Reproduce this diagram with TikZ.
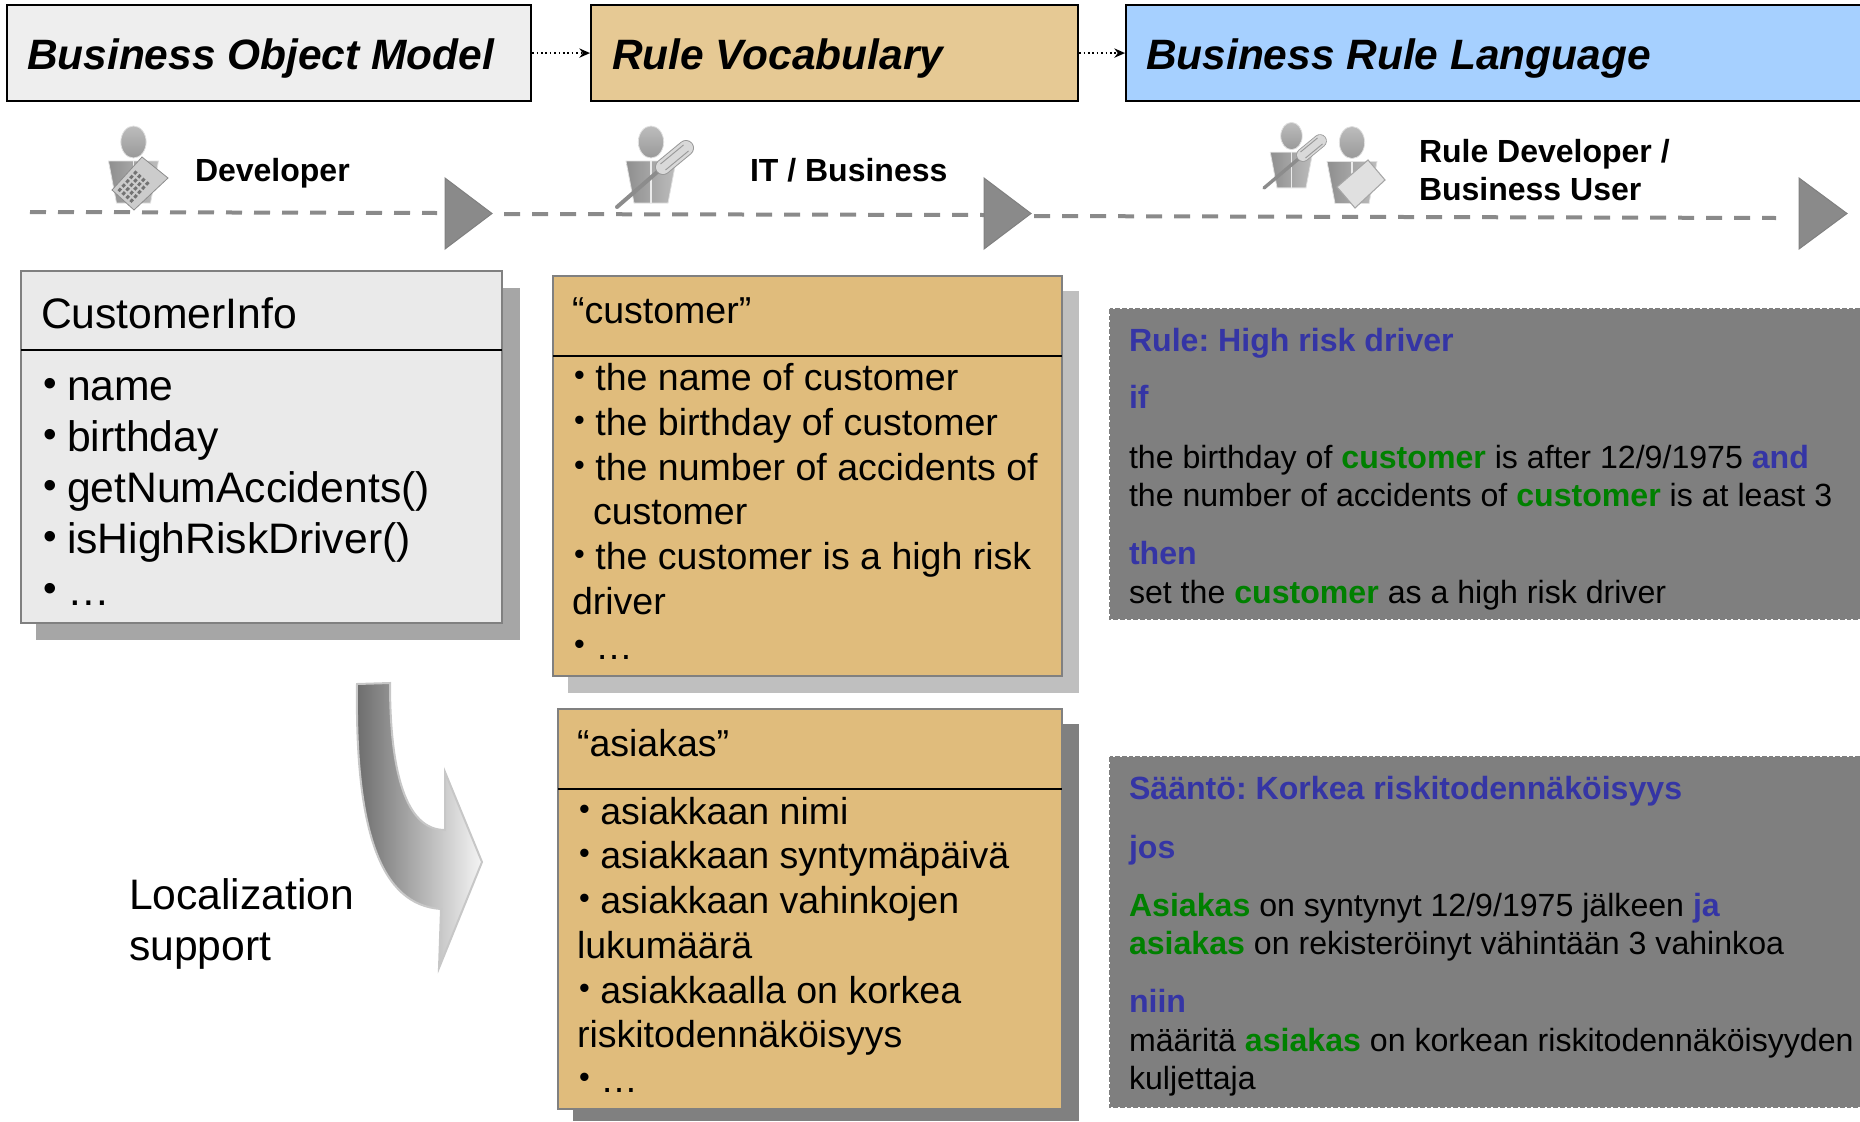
\documentclass[tikz,border=0pt]{standalone}
\usepackage{fontspec}
\setmainfont{Liberation Sans}
\usetikzlibrary{arrows.meta,calc}
\AtBeginDocument{\frenchspacing}
\definecolor{hdgray}{HTML}{EEEEEE}
\definecolor{hdtan}{HTML}{E6C994}
\definecolor{hdblue}{HTML}{A6D0FF}
\definecolor{boxgray}{HTML}{EAEAEA}
\definecolor{boxtan}{HTML}{E0BC7C}
\definecolor{edgegray}{HTML}{808080}
\definecolor{timeline}{HTML}{8A8A8A}
\definecolor{kwblue}{HTML}{3535A5}
\definecolor{kwgreen}{HTML}{008000}
\definecolor{panelgray}{HTML}{7F7F7F}
\newcommand{\fh}{\fontsize{31.85}{36}\selectfont\bfseries\itshape}
\newcommand{\fr}{\fontsize{24}{29}\selectfont\bfseries}
\newcommand{\fa}{\fontsize{32}{38}\selectfont}
\newcommand{\fb}{\fontsize{28.15}{34}\selectfont}
\newcommand{\fc}{\fontsize{24.08}{29}\selectfont}
\newcommand{\Kb}[1]{\textcolor{kwblue}{\bfseries #1}}
\newcommand{\Kg}[1]{\textcolor{kwgreen}{\bfseries #1}}
\newcommand{\bla}{\makebox[18pt][l]{\fontsize{29}{29}\selectfont\raisebox{.1em}{•}}}
\newcommand{\blb}{\makebox[16pt][l]{\fontsize{23}{23}\selectfont\raisebox{.16em}{•}}}
\newcommand{\lbl}[5]{\node[txt,#4] (#1) at (#2,#3) {#5};}
\newcommand{\tri}[4]{\fill[timeline,draw=edgegray,line width=.75pt] (#1,#2) -- (#1,#3) -- (#4,{(#2+#3)/2}) -- cycle;}
\newcommand{\driver}[7]{%
  \draw[black!45,line width=#7*3pt,line cap=round] (#1,#2) -- (#3,#4);
  \draw[black!40,line width=#7*12pt,line cap=round] (#3,#4) -- (#5,#6);
  \draw[black!15,line width=#7*10.5pt,line cap=round] (#3,#4) -- (#5,#6);
  \draw[black!40,line width=.7pt] ($(#3,#4)+(2.5,3)$) -- ($(#5,#6)+(2.5,3)$);
  \draw[black!40,line width=.7pt] ($(#3,#4)+(-2.5,-3)$) -- ($(#5,#6)+(-2.5,-3)$);
}
\tikzset{
  txt/.style={anchor=base west,inner sep=0pt,outer sep=0pt,align=left},
  header/.style={draw=black,line width=1.6pt,anchor=north west,inner sep=0pt},
  hdtext/.style={font=\fh},
  role/.style={font=\fr},
  tl/.style={timeline,line width=3pt,dash pattern=on 12pt off 9pt},
  flow/.style={black,line width=1.3pt,dotted,-{Stealth[length=8pt,width=7pt]}},
  sheet/.style={draw=edgegray,line width=1.6pt},
  person/.pic={
    \shade[top color=black!26,bottom color=black!40,draw=black!12,line width=.6pt] (0,0) ellipse [x radius=9.5pt,y radius=12pt];
    \shade[left color=black!44,right color=black!26,draw=black!12,line width=.6pt] (-25,19) -- (25,19) -- (17,61) -- (-17,61) -- cycle;
    \draw[black!8,line width=.8pt] (0,19) -- (0,61);
  }
}
\begin{document}
\begin{tikzpicture}[x=.75pt,y=-.75pt]
\clip (0,0) rectangle (1860,1121);
% headers
\node[header,fill=hdgray,minimum width=524*.75pt,minimum height=96*.75pt] (hbom) at (6,4) {};
\node[header,fill=hdtan,minimum width=487*.75pt,minimum height=96*.75pt] (hvoc) at (590,4) {};
\node[header,fill=hdblue,minimum width=760*.75pt,minimum height=96*.75pt] (hbrl) at (1125,4) {};
\draw[flow] (hbom) -- (hvoc);
\draw[flow] (hvoc) -- (hbrl);
\lbl{hbomt}{27}{69}{hdtext}{Business Object Model}
\lbl{hvoct}{612}{69}{hdtext}{Rule Vocabulary}
\lbl{hbrlt}{1146}{69}{hdtext}{Business Rule Language}
% timeline
\coordinate (l1a) at (30,212); \coordinate (l1b) at (437,213);
\coordinate (l2a) at (504,214); \coordinate (l2b) at (984,215);
\coordinate (l3a) at (1034,216); \coordinate (l3b) at (1776,218);
\draw[tl] (l1a) -- (l1b);
\draw[tl] (l2a) -- (l2b);
\draw[tl] (l3a) -- (l3b);
\tri{445}{178}{249}{492}
\tri{984}{178}{249}{1031}
\tri{1799}{178}{249}{1847}
% developer
\pic at (133.5,142) {person};
\fill[black!20,draw=black!45,line width=.6pt] (112,190) -- (142,157) -- (168,178) -- (134,210) -- cycle;
\begin{scope}[shift={(112,190)},x={(22.5pt,24.75pt)},y={(16.5pt,-15pt)}]
  \fill[white!80!black] (.76,.18) -- (.95,.18) -- (.95,.85) -- (.76,.85) -- cycle;
  \foreach \u in {.08,.21,.34,.47,.60} \foreach \v in {.14,.32,.50,.68}
    \fill[black!55] (\u,\v) -- (\u+.08,\v) -- (\u+.08,\v+.1) -- (\u,\v+.1) -- cycle;
\end{scope}
\lbl{rdev}{195}{181}{role}{Developer}
% IT / Business
\pic at (651,142) {person};
\driver{617}{207}{663}{167}{686}{148}{1}
\lbl{rit}{750}{181}{role}{IT / Business}
% rule developer / business user
\pic[scale=.85] at (1291.5,136) {person};
\driver{1264}{188}{1303}{155}{1320}{141}{.85}
\pic at (1352,142.5) {person};
\fill[black!12,draw=black!35,line width=.8pt] (1337,187) -- (1368,160) -- (1385,180) -- (1355,208) -- cycle;
\lbl{rrd}{1419}{162}{role}{Rule Developer /}
\lbl{rbu}{1419}{200}{role}{Business User}
% CustomerInfo
\fill[black!35] (36,288) rectangle (520,640);
\draw[sheet,fill=boxgray] (21,271) rectangle (502,623);
\coordinate (d1a) at (21,350); \coordinate (d1b) at (502,350);
\draw[black,line width=1.4pt] (d1a) -- (d1b);
\lbl{c0}{41}{328}{font=\fa}{CustomerInfo}
\lbl{c1}{43}{400}{font=\fa}{\bla name}
\lbl{c2}{43}{451}{font=\fa}{\bla birthday}
\lbl{c3}{43}{502}{font=\fa}{\bla getNumAccidents()}
\lbl{c4}{43}{553}{font=\fa}{\bla isHighRiskDriver()}
\lbl{c5}{43}{605}{font=\fa}{\bla …}
% vocabulary customer
\fill[black!25] (568,291) rectangle (1079,693);
\draw[sheet,fill=boxtan] (553,276) rectangle (1062,676);
\coordinate (d2a) at (553,356); \coordinate (d2b) at (1062,356);
\draw[black,line width=1.4pt] (d2a) -- (d2b);
\lbl{v0}{572}{323}{font=\fb}{“customer”}
\lbl{v1}{574}{390}{font=\fb}{\blb the name of customer}
\lbl{v2}{574}{435}{font=\fb}{\blb the birthday of customer}
\lbl{v3}{574}{480}{font=\fb}{\blb the number of accidents of}
\lbl{v4}{593}{524}{font=\fb}{customer}
\lbl{v5}{574}{569}{font=\fb}{\blb the customer is a high risk}
\lbl{v6}{572}{614}{font=\fb}{driver}
\lbl{v7}{574}{659}{font=\fb}{\blb …}
% vocabulary asiakas
\fill[black!50] (573,724) rectangle (1079,1121);
\draw[sheet,fill=boxtan] (558,709) rectangle (1062,1109);
\coordinate (d3a) at (558,789); \coordinate (d3b) at (1062,789);
\draw[black,line width=1.4pt] (d3a) -- (d3b);
\lbl{a0}{577}{756}{font=\fb}{“asiakas”}
\lbl{a1}{579}{824}{font=\fb}{\blb asiakkaan nimi}
\lbl{a2}{579}{868}{font=\fb}{\blb asiakkaan syntymäpäivä}
\lbl{a3}{579}{913}{font=\fb}{\blb asiakkaan vahinkojen}
\lbl{a4}{577}{958}{font=\fb}{lukumäärä}
\lbl{a5}{579}{1003}{font=\fb}{\blb asiakkaalla on korkea}
\lbl{a6}{577}{1047}{font=\fb}{riskitodennäköisyys}
\lbl{a7}{579}{1092}{font=\fb}{\blb …}
% rule panels
\draw[panelgray,fill=panelgray,line width=1.5pt,dash pattern=on 3.5pt off 1.5pt] (1110,309) rectangle (1875,619);
\lbl{p1}{1129}{351}{font=\fc}{\Kb{Rule: High risk driver}}
\lbl{p2}{1129}{408}{font=\fc}{\Kb{if}}
\lbl{p3}{1129}{468}{font=\fc}{the birthday of \Kg{customer} is after 12/9/1975 \Kb{and}}
\lbl{p4}{1129}{506}{font=\fc}{the number of accidents of \Kg{customer} is at least 3}
\lbl{p5}{1129}{564}{font=\fc}{\Kb{then}}
\lbl{p6}{1129}{603}{font=\fc}{set the \Kg{customer} as a high risk driver}
\draw[panelgray,fill=panelgray,line width=1.5pt,dash pattern=on 3.5pt off 1.5pt] (1110,757) rectangle (1875,1107);
\lbl{s1}{1129}{799}{font=\fc}{\Kb{Sääntö: Korkea riskitodennäköisyys}}
\lbl{s2}{1129}{858}{font=\fc}{\Kb{jos}}
\lbl{s3}{1129}{916}{font=\fc}{\Kg{Asiakas} on syntynyt 12/9/1975 jälkeen \Kb{ja}}
\lbl{s4}{1129}{954}{font=\fc}{\Kg{asiakas} on rekisteröinyt vähintään 3 vahinkoa}
\lbl{s5}{1129}{1012}{font=\fc}{\Kb{niin}}
\lbl{s6}{1129}{1051}{font=\fc}{määritä \Kg{asiakas} on korkean riskitodennäköisyyden}
\lbl{s7}{1129}{1089}{font=\fc}{kuljettaja}
% localization
\path[left color=black!58,right color=black!4,draw=black!22,line width=1.5pt]
  (357,684) -- (390,683) .. controls (390,770) and (405,830) .. (445,830)
  -- (445,772) -- (482,862) -- (439,968) -- (441,909)
  .. controls (380,905) and (355,830) .. (357,684) -- cycle;
\lbl{loc1}{129}{909}{font=\fa}{Localization}
\lbl{loc2}{129}{960}{font=\fa}{support}
\end{tikzpicture}
\end{document}
